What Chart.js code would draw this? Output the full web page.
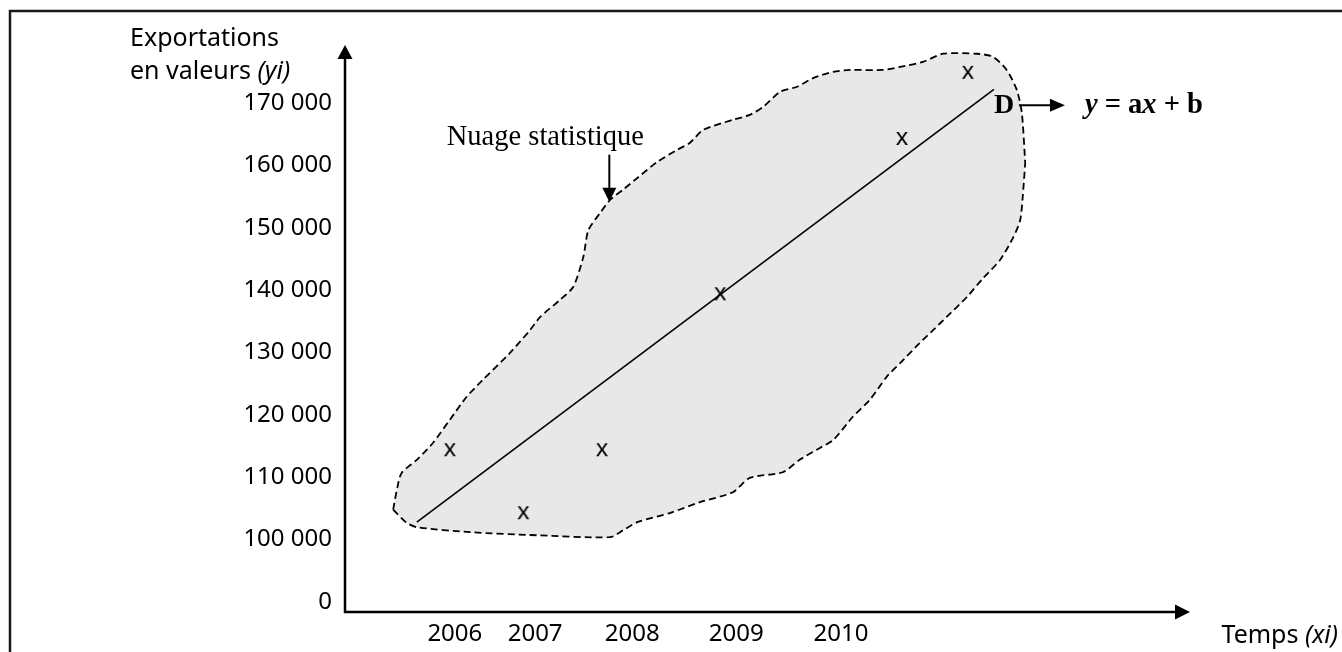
<!DOCTYPE html>
<html lang="fr">
<head>
<meta charset="utf-8">
<title>Nuage statistique</title>
<script src="https://cdn.jsdelivr.net/npm/chart.js@4.4.0/dist/chart.umd.min.js"></script>
<style>
  html, body { margin: 0; padding: 0; background: #fff; }
  #wrap { width: 1342px; height: 652px; }
</style>
</head>
<body>
<div id="wrap"><canvas id="chart" width="1342" height="652"></canvas></div>
<script>
// time axis: the years are not evenly spaced in the drawing, so they sit on a 0..100 position axis
const yearLabels = ['2006', '2007', '2008', '2009', '2010'];
const yearPos = [13.0, 22.5, 34.0, 46.3, 58.7];

// value axis is broken: the "0" label sits one step under 100 000
const valueTicks = [90000, 100000, 110000, 120000, 130000, 140000, 150000, 160000, 170000];
const valueLabels = ['0', '100 000', '110 000', '120 000', '130 000', '140 000', '150 000', '160 000', '170 000'];

// observed points (xi, yi)
const pointX = [12.4, 21.1, 30.4, 44.4, 65.9, 73.7];
const pointY = [114500, 104400, 114500, 139500, 164400, 175000];

// fitted line D : y = ax + b
const lineX = [8.5, 76.8];
const lineY = [102800, 172200];

// outline of the cloud, upper and lower edge
const cloudTopX = [5.7, 6.2, 6.7, 8.5, 10.4, 12.4, 14.4, 16.3, 19.5, 21.9, 23.1, 25.4, 27.0, 28.2, 28.8, 30.2, 31.4, 32.9, 34.7, 36.9,
  39.3, 40.8, 42.4, 45.9, 47.9, 49.5, 51.5, 53.5, 55.4, 57.8, 59.8, 63.7, 65.7, 68.4, 70.8, 74.8, 76.7, 78.3, 79.5, 80.1, 80.5];
const cloudTopY = [104800, 108400, 110700, 112800, 115500, 119200, 122900, 125600, 129900, 133600, 135700, 138400, 140500, 145300, 149600, 152400, 154500, 156100, 158100, 160500,
  162500, 163600, 165700, 167300, 168100, 169400, 171800, 172600, 174000, 175000, 175300, 175300, 175800, 176600, 177900, 177900, 177400, 175300, 172100, 168400, 160400];
const cloudBottomX = [5.7, 7.3, 8.5, 14.8, 22.7, 31.4, 32.9, 34.6, 38.5, 42.0, 45.9, 47.9, 51.8, 53.8, 56.2, 57.8, 60.1, 62.1, 64.1, 65.7,
  68.0, 69.6, 71.2, 73.6, 75.5, 77.5, 79.1, 79.9, 80.2, 80.5];
const cloudBottomY = [104800, 102700, 102000, 101200, 100700, 100400, 101500, 102800, 104300, 106000, 107600, 109900, 110800, 112800, 114700, 116000, 119700, 122400, 126100, 128300,
  131500, 133600, 135700, 138900, 141900, 144800, 148500, 151200, 154900, 160400];
const cloudLabelAt = 16; // point of the upper edge the "Nuage statistique" arrow points to

const SANS = "'Noto Sans', 'DejaVu Sans', sans-serif";
const SERIF = "'Liberation Serif', 'DejaVu Serif', serif";

const toXY = (xs, ys) => xs.map((v, i) => ({ x: v, y: ys[i] }));

// the points are drawn as a letter "x", like in the original
function makeCross() {
    const c = document.createElement('canvas');
    c.width = 24;
    c.height = 24;
    const g = c.getContext('2d');
    g.fillStyle = '#000';
    g.font = '24px ' + SANS;
    g.textAlign = 'center';
    g.fillText('x', 12, 18.5);
    return c;
}

function drawRuns(ctx, runs, x, yb, align) {
    let total = 0;
    runs.forEach(r => { ctx.font = r[1]; total += ctx.measureText(r[0]).width; });
    let cx = align === 'right' ? x - total : x;
    ctx.textAlign = 'left';
    ctx.textBaseline = 'alphabetic';
    runs.forEach(r => {
        ctx.font = r[1];
        ctx.fillText(r[0], cx, yb);
        cx += ctx.measureText(r[0]).width;
    });
}

function arrowHead(ctx, tx, ty, dir, len, half) {
    ctx.beginPath();
    if (dir === 'up') {
        ctx.moveTo(tx, ty); ctx.lineTo(tx - half, ty + len); ctx.lineTo(tx + half, ty + len);
    } else if (dir === 'down') {
        ctx.moveTo(tx, ty); ctx.lineTo(tx - half, ty - len); ctx.lineTo(tx + half, ty - len);
    } else {
        ctx.moveTo(tx, ty); ctx.lineTo(tx - len, ty - half); ctx.lineTo(tx - len, ty + half);
    }
    ctx.closePath();
    ctx.fill();
}

const annotations = {
    id: 'annotations',
    afterDraw(chart) {
        const { ctx, chartArea: a, scales: { x, y } } = chart;
        const f = '25px ' + SANS;
        const fi = 'italic 25px ' + SANS;
        ctx.save();

        // frame
        ctx.strokeStyle = '#1a1a1a';
        ctx.lineWidth = 2.5;
        ctx.strokeRect(10, 11, 1600, 900);

        // axes with arrows
        ctx.strokeStyle = '#000';
        ctx.fillStyle = '#000';
        ctx.lineWidth = 2.5;
        ctx.beginPath();
        ctx.moveTo(a.left, a.bottom + 1);
        ctx.lineTo(a.left, a.top + 12);
        ctx.moveTo(a.left - 1, a.bottom);
        ctx.lineTo(a.right - 14, a.bottom);
        ctx.stroke();
        arrowHead(ctx, a.left, a.top, 'up', 14, 7.5);
        arrowHead(ctx, a.right, a.bottom, 'right', 15, 7.5);

        // axis titles
        drawRuns(ctx, [['Exportations', f]], 130, 46);
        drawRuns(ctx, [['en valeurs ', f], ['(yi)', fi]], 130, 79);
        drawRuns(ctx, [['Temps ', f], ['(xi)', fi]], 1338, 643, 'right');

        // "Nuage statistique" and its arrow
        const nx = x.getPixelForValue(cloudTopX[cloudLabelAt]) - 1;
        const ny = y.getPixelForValue(cloudTopY[cloudLabelAt]) + 2;
        ctx.lineWidth = 2;
        ctx.beginPath();
        ctx.moveTo(nx, ny - 47);
        ctx.lineTo(nx, ny - 12);
        ctx.stroke();
        arrowHead(ctx, nx, ny, 'down', 14, 7);
        ctx.font = '28.5px ' + SERIF;
        ctx.textAlign = 'center';
        ctx.fillText('Nuage statistique', nx - 64, ny - 57);

        // D -> y = ax + b
        const dx = x.getPixelForValue(lineX[1]);
        const dy = y.getPixelForValue(lineY[1]);
        drawRuns(ctx, [['D', 'bold 28px ' + SERIF]], dx, dy + 24);
        ctx.lineWidth = 2;
        ctx.beginPath();
        ctx.moveTo(dx + 25, dy + 16);
        ctx.lineTo(dx + 58, dy + 16);
        ctx.stroke();
        arrowHead(ctx, dx + 71, dy + 16, 'right', 15, 6.5);
        const b = 'bold 28.5px ' + SERIF;
        const bi = 'italic bold 28.5px ' + SERIF;
        drawRuns(ctx, [['y', bi], [' = a', b], ['x', bi], [' + b', b]], dx + 91, dy + 24);

        ctx.restore();
    }
};

const chart = new Chart(document.getElementById('chart'), {
    type: 'line',
    data: {
        datasets: [
            {
                label: 'points',
                data: toXY(pointX, pointY),
                showLine: false,
                pointStyle: makeCross(),
                pointRadius: 12,
                order: 0
            },
            {
                label: 'D',
                data: toXY(lineX, lineY),
                borderColor: '#000',
                borderWidth: 1.6,
                pointRadius: 0,
                fill: false,
                order: 1
            },
            {
                label: 'nuage haut',
                data: toXY(cloudTopX, cloudTopY),
                borderColor: '#000',
                borderWidth: 1.8,
                borderDash: [7, 4],
                backgroundColor: '#e8e8e8',
                fill: '+1',
                pointRadius: 0,
                tension: 0.25,
                order: 3
            },
            {
                label: 'nuage bas',
                data: toXY(cloudBottomX, cloudBottomY),
                borderColor: '#000',
                borderWidth: 1.8,
                borderDash: [7, 4],
                fill: false,
                pointRadius: 0,
                tension: 0.25,
                order: 2
            }
        ]
    },
    options: {
        responsive: false,
        animation: false,
        devicePixelRatio: 1,
        layout: { padding: { left: 0, top: 45, right: 152, bottom: 0 } },
        plugins: {
            legend: { display: false },
            tooltip: { enabled: false }
        },
        scales: {
            x: {
                type: 'linear',
                min: 0,
                max: 100,
                grid: { display: false, drawTicks: false },
                border: { display: false },
                afterBuildTicks: s => { s.ticks = yearPos.map(v => ({ value: v })); },
                afterFit: s => { s.height = 40; },
                ticks: {
                    autoSkip: false,
                    maxRotation: 0,
                    padding: 8,
                    color: '#000',
                    font: { family: SANS, size: 24 },
                    callback: (v, i) => yearLabels[i]
                }
            },
            y: {
                type: 'linear',
                min: 88400,
                max: 179300,
                grid: { display: false, drawTicks: false },
                border: { display: false },
                afterBuildTicks: s => { s.ticks = valueTicks.map(v => ({ value: v })); },
                afterFit: s => { s.width = 345; },
                ticks: {
                    autoSkip: false,
                    padding: 13,
                    color: '#000',
                    font: { family: SANS, size: 24 },
                    callback: (v, i) => valueLabels[i]
                }
            }
        }
    },
    plugins: [annotations]
});
</script>
</body>
</html>
